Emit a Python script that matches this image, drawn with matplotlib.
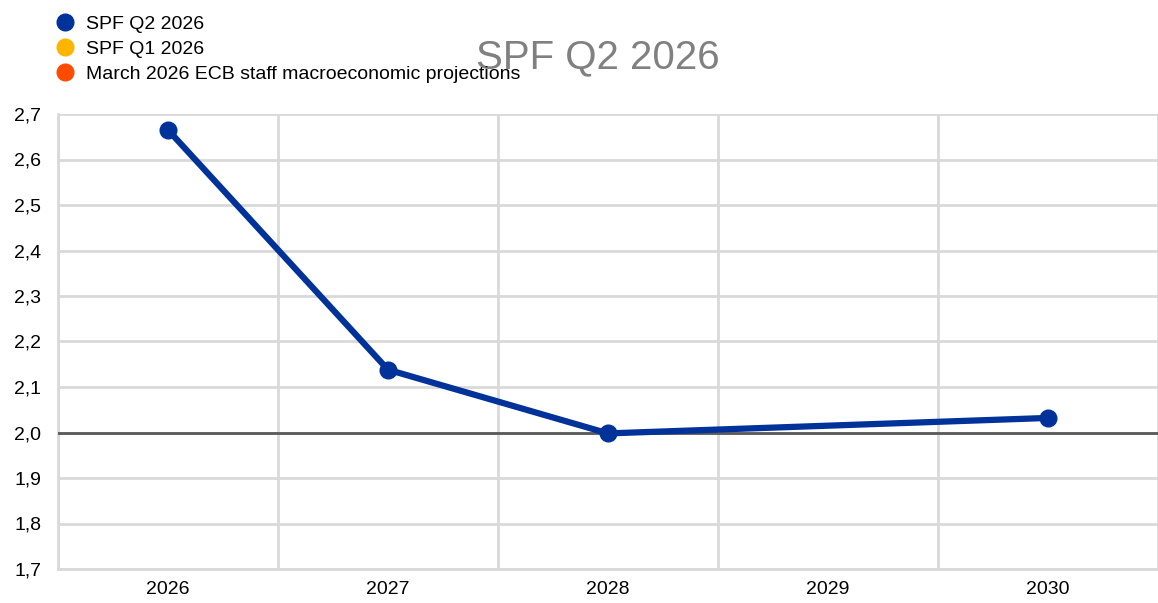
import matplotlib
matplotlib.use("Agg")
from matplotlib import pyplot as plt
from matplotlib.ticker import FuncFormatter
import numpy as np

years = ["2026", "2027", "2028", "2029", "2030"]
spf_q2 = [2.665, 2.138, 1.998, np.nan, 2.032]
spf_q1 = []
ecb_march = []
y_ticks = [1.7, 1.8, 1.9, 2.0, 2.1, 2.2, 2.3, 2.4, 2.5, 2.6, 2.7]

plt.rcParams['font.family'] = ['Liberation Sans', 'DejaVu Sans']

fig = plt.figure(figsize=(11.58, 6.03), dpi=100)
ax = fig.add_axes([58 / 1158, 1 - 569 / 603, 1100 / 1158, 455 / 603])

x = np.arange(len(years))
mask = ~np.isnan(spf_q2)
ax.plot(x[mask], np.array(spf_q2)[mask], color='#003299', lw=4.5, marker='o',
        markersize=12, zorder=4, solid_capstyle='round')

# empty series, only for the legend
h1, = ax.plot([], [], 'o', color='#003299', markersize=12)
h2, = ax.plot([], [], 'o', color='#FFB400', markersize=12)
h3, = ax.plot([], [], 'o', color='#FF4B00', markersize=12)

ax.axhline(2.0, color='#595959', lw=2, zorder=3)

ax.set_xlim(-0.5, len(years) - 0.5)
ax.set_ylim(1.7, 2.7)
ax.set_yticks(y_ticks)
ax.yaxis.set_major_formatter(FuncFormatter(lambda v, p: f"{v:.1f}".replace('.', ',')))
ax.set_xticks(x)
ax.set_xticklabels(years)
ax.set_xticks(np.arange(-0.5, len(years)), minor=True)
ax.grid(True, axis='y', color='#d9d9d9', lw=2)
ax.grid(True, axis='x', which='minor', color='#d9d9d9', lw=2)
ax.tick_params(which='both', length=0, labelsize=14, colors='black')
ax.tick_params(axis='y', pad=12)
ax.tick_params(axis='x', pad=9)
for s in ['top', 'right']:
    ax.spines[s].set_visible(False)
for s in ['left', 'bottom']:
    ax.spines[s].set_color('#d9d9d9')
    ax.spines[s].set_linewidth(2)
ax.set_axisbelow(True)

fig.text(598 / 1158, 1 - 57 / 603, "SPF Q2 2026", fontsize=29, color='#808080',
         ha='center', va='center')

fig.legend([h1, h2, h3],
           ["SPF Q2 2026", "SPF Q1 2026", "March 2026 ECB staff macroeconomic projections"],
           loc='upper left', bbox_to_anchor=(45 / 1158, 1 - 5 / 603), frameon=False,
           borderaxespad=0.15,
           fontsize=14, handletextpad=0.55, labelspacing=0.38, handlelength=1.0)

fig.savefig("out.png", dpi=100)
